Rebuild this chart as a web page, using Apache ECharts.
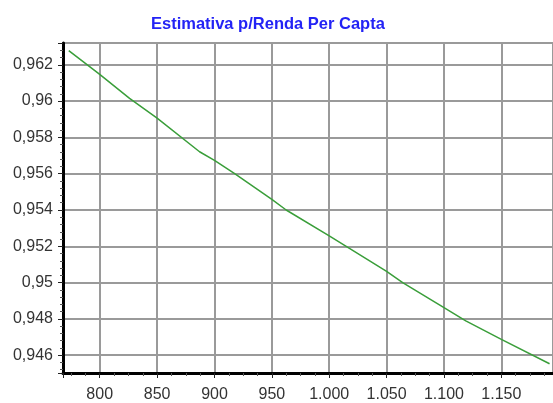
<!DOCTYPE html>
<html>
<head>
<meta charset="utf-8">
<script src="https://cdn.jsdelivr.net/npm/echarts@6/dist/echarts.min.js"></script>
<style>
  html, body { margin: 0; padding: 0; background: #fff; }
  #myChart { width: 553px; height: 403px; }
</style>
</head>
<body>
<div id="myChart"></div>
<script>
// renda per capta (x) e estimativa (y)
const renda = [773, 800, 826, 850, 887, 900, 917.6, 950, 962.5, 1000, 1014.8, 1050, 1064, 1100, 1119, 1150, 1192];
const estimativa = [0.96278, 0.96147, 0.96015, 0.95906, 0.95721, 0.95673, 0.956, 0.95458, 0.954, 0.95258, 0.952, 0.95062, 0.95, 0.94862, 0.94789, 0.94687, 0.94553];
const titulo = "Estimativa p/Renda Per Capta";

// formato brasileiro: vírgula decimal, ponto de milhar
function fmtY(v) {
  return String(+v.toFixed(4)).replace(".", ",");
}
function fmtX(v) {
  v = Math.round(v);
  if (v >= 1000) return Math.floor(v / 1000) + "." + String(v % 1000).padStart(3, "0");
  return String(v);
}

let myChart = echarts.init(document.getElementById("myChart"));
myChart.setOption({
  animation: false,
  title: {
    text: titulo,
    left: 146,
    top: 11,
    textStyle: {
      color: "#2323f5",
      fontWeight: "bold",
      fontSize: 16.5,
      fontFamily: "Liberation Sans",
    },
  },
  grid: {
    left: 63,
    top: 43,
    right: 0,
    bottom: 26,
    show: true,
    borderColor: "#8a8a8a",
    borderWidth: 2,
  },
  xAxis: {
    type: "value",
    min: 768,
    max: 1195,
    splitNumber: 8,
    axisLine: { lineStyle: { color: "#000", width: 3 } },
    axisTick: { length: 5, lineStyle: { color: "#222", width: 1 } },
    minorTick: { show: true, splitNumber: 4, length: 3, lineStyle: { color: "#555" } },
    axisLabel: {
      showMinLabel: false,
      showMaxLabel: false,
      margin: 14,
      color: "#333",
      fontSize: 16,
      fontFamily: "Liberation Sans",
      formatter: fmtX,
    },
    splitLine: { show: true, lineStyle: { color: "#9a9a9a", width: 2 } },
  },
  yAxis: {
    type: "value",
    min: 0.94502,
    max: 0.9632,
    splitNumber: 9,
    axisLine: { show: true, lineStyle: { color: "#000", width: 3 } },
    axisTick: { show: true, length: 5, lineStyle: { color: "#222", width: 1 } },
    minorTick: { show: true, splitNumber: 5, length: 3, lineStyle: { color: "#555" } },
    axisLabel: {
      showMinLabel: false,
      showMaxLabel: false,
      margin: 10,
      color: "#333",
      fontSize: 16,
      fontFamily: "Liberation Sans",
      formatter: fmtY,
    },
    splitLine: { show: true, lineStyle: { color: "#9a9a9a", width: 2 } },
  },
  series: [
    {
      type: "line",
      data: renda.map((x, i) => [x, estimativa[i]]),
      showSymbol: false,
      smooth: false,
      lineStyle: { color: "#3a9e3a", width: 1.5 },
    },
  ],
});
</script>
</body>
</html>
